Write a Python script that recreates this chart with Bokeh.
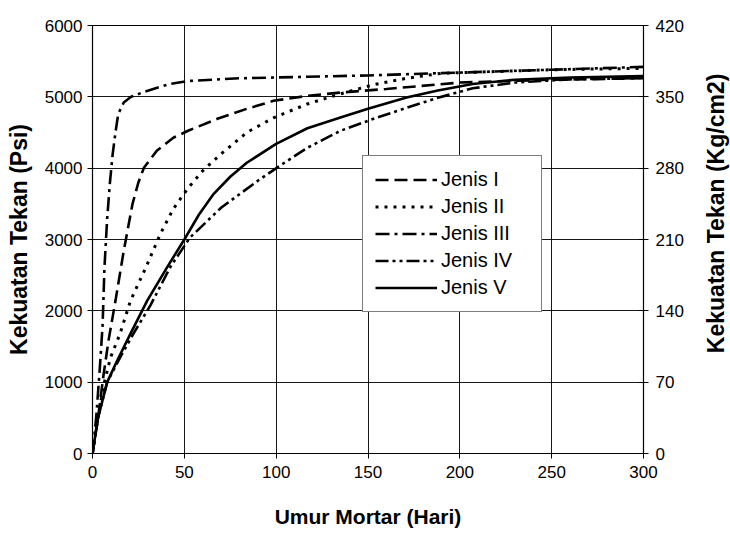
import math
from bokeh.plotting import figure
from bokeh.layouts import row
from bokeh.models import Range1d, LinearAxis, FixedTicker, Legend, LegendItem
from bokeh.core.properties import value
from bokeh.embed import file_html
from bokeh.resources import INLINE

# ---- data ----
x_label = "Umur Mortar (Hari)"
y_label_left = "Kekuatan Tekan (Psi)"
y_label_right = "Kekuatan Tekan (Kg/cm2)"
x_ticks = [0, 50, 100, 150, 200, 250, 300]
y_ticks_psi = [0, 1000, 2000, 3000, 4000, 5000, 6000]
y_ticks_kg = [0, 70, 140, 210, 280, 350, 420]

names = ["Jenis I", "Jenis II", "Jenis III", "Jenis IV", "Jenis V"]

jenis1_day = [0, 3, 6, 8.7, 12.5, 17, 21.8, 25, 28, 35, 44, 52, 68, 84, 98.5, 117, 135, 160, 200, 250, 300]
jenis1_psi = [0, 500, 1100, 1580, 2140, 2840, 3500, 3800, 4006, 4244, 4426, 4524, 4692, 4832, 4944, 5014, 5060, 5110, 5200, 5240, 5260]

jenis2_day = [0, 3, 6, 9.8, 15, 20.7, 29, 37, 44, 52, 60, 70, 84, 98.5, 117, 135, 153, 171, 190, 250, 300]
jenis2_psi = [0, 500, 950, 1345, 1680, 2143, 2605, 3081, 3430, 3720, 3963, 4200, 4500, 4706, 4900, 5042, 5170, 5260, 5330, 5380, 5400]

jenis3_day = [0, 2, 4, 5.5, 6.5, 8, 9.5, 11, 12.5, 14, 17, 21, 28, 42, 53, 80, 150, 200, 250, 300]
jenis3_psi = [0, 500, 1200, 1800, 2600, 3300, 3800, 4200, 4500, 4760, 4920, 5000, 5070, 5180, 5224, 5260, 5300, 5340, 5380, 5420]

jenis4_day = [0, 3, 8, 15, 22.3, 31.6, 42.5, 53, 70, 90, 102, 117, 135, 153, 171, 188, 207, 230, 260, 300]
jenis4_psi = [0, 500, 1000, 1345, 1680, 2080, 2620, 3025, 3445, 3823, 4034, 4286, 4524, 4692, 4846, 4986, 5120, 5200, 5245, 5265]

jenis5_day = [0, 3, 8, 13.4, 20.7, 29.8, 40.6, 50, 58, 66, 75, 84, 100, 117, 135, 150, 171, 188, 207, 230, 260, 300]
jenis5_psi = [0, 500, 1000, 1300, 1680, 2143, 2610, 3000, 3350, 3640, 3880, 4076, 4340, 4560, 4710, 4832, 4990, 5090, 5180, 5240, 5270, 5290]

series = [(jenis1_day, jenis1_psi), (jenis2_day, jenis2_psi), (jenis3_day, jenis3_psi),
          (jenis4_day, jenis4_psi), (jenis5_day, jenis5_psi)]

# ---- styles ----
dashes = ["13 6", "3 6", "14 5 3 5", "13 4 3 4 3 4", "solid"]
widths = [2.6, 3.0, 2.6, 2.6, 2.6]
FONT = "Liberation Sans"

p = figure(width=700, height=533, output_backend="svg", toolbar_location=None,
           x_range=Range1d(0, 300), y_range=Range1d(0, 6000),
           min_border_left=92, min_border_right=57, min_border_top=25, min_border_bottom=80)
p.extra_y_ranges = {"kg": Range1d(0, 420)}

p.outline_line_color = "black"
p.outline_line_width = 1.2
p.background_fill_color = "white"
p.border_fill_color = "white"

for ax, ticks in ((p.xaxis[0], x_ticks), (p.yaxis[0], y_ticks_psi)):
    ax.ticker = FixedTicker(ticks=ticks)
    ax.major_label_text_font = FONT
    ax.major_label_text_font_size = "17px"
    ax.major_label_text_color = "black"
    ax.axis_label_text_font = FONT
    ax.axis_label_text_font_style = "bold"
    ax.axis_label_text_color = "black"
    ax.axis_line_color = "black"
    ax.major_tick_line_color = "black"
    ax.major_tick_out = 5
    ax.major_tick_in = 0
    ax.minor_tick_line_color = None

p.xaxis.axis_label = x_label
p.xaxis.axis_label_text_font_size = "21px"
p.yaxis.axis_label = y_label_left
p.yaxis.axis_label_text_font_size = "23px"
p.xaxis.major_label_standoff = 7
p.xaxis.axis_label_standoff = 24
p.yaxis.major_label_standoff = 5
p.yaxis.axis_label_standoff = 10

ax_r = LinearAxis(y_range_name="kg", ticker=FixedTicker(ticks=y_ticks_kg))
ax_r.major_label_text_font = FONT
ax_r.major_label_text_font_size = "17px"
ax_r.major_label_text_color = "black"
ax_r.axis_line_color = "black"
ax_r.major_tick_line_color = "black"
ax_r.major_tick_out = 5
ax_r.major_tick_in = 5
ax_r.minor_tick_line_color = None
ax_r.major_label_standoff = 7
p.add_layout(ax_r, "right")

p.xgrid.ticker = FixedTicker(ticks=x_ticks)
p.ygrid.ticker = FixedTicker(ticks=y_ticks_psi)
for g in (p.xgrid[0], p.ygrid[0]):
    g.grid_line_color = "black"
    g.grid_line_width = 1
    g.grid_line_alpha = 0.9

items = []
for name, (xs, ys), d, w in zip(names, series, dashes, widths):
    r = p.line(xs, ys, line_color="black", line_width=w, line_dash=d)
    items.append(LegendItem(label=name, renderers=[r]))

legend = Legend(items=items, location=(270, 141))
legend.label_text_font = FONT
legend.label_text_font_size = "20px"
legend.label_text_color = "black"
legend.glyph_width = 62
legend.glyph_height = 23
legend.label_width = 88
legend.label_standoff = 4
legend.spacing = 4
legend.padding = 12
legend.margin = 0
legend.border_line_color = "black"
legend.border_line_width = 1.2
legend.background_fill_color = "white"
legend.background_fill_alpha = 1
p.add_layout(legend, "center")

# narrow strip on the right carrying the right-hand axis title (reads bottom to top)
side = figure(width=30, height=533, output_backend="svg", toolbar_location=None,
              x_range=Range1d(0, 30), y_range=Range1d(0, 533),
              x_axis_type=None, y_axis_type=None,
              min_border_left=0, min_border_right=0, min_border_top=0, min_border_bottom=0)
side.outline_line_color = None
side.xgrid.visible = False
side.ygrid.visible = False
side.background_fill_color = "white"
side.border_fill_color = "white"
side.text(x=[15], y=[299], text=[y_label_right], angle=math.pi / 2,
          text_align="center", text_baseline="middle",
          text_font=value(FONT), text_font_size="23px", text_font_style="bold",
          text_color="black")

layout = row(p, side, spacing=0)
open("out.html", "w").write(file_html(layout, INLINE))
